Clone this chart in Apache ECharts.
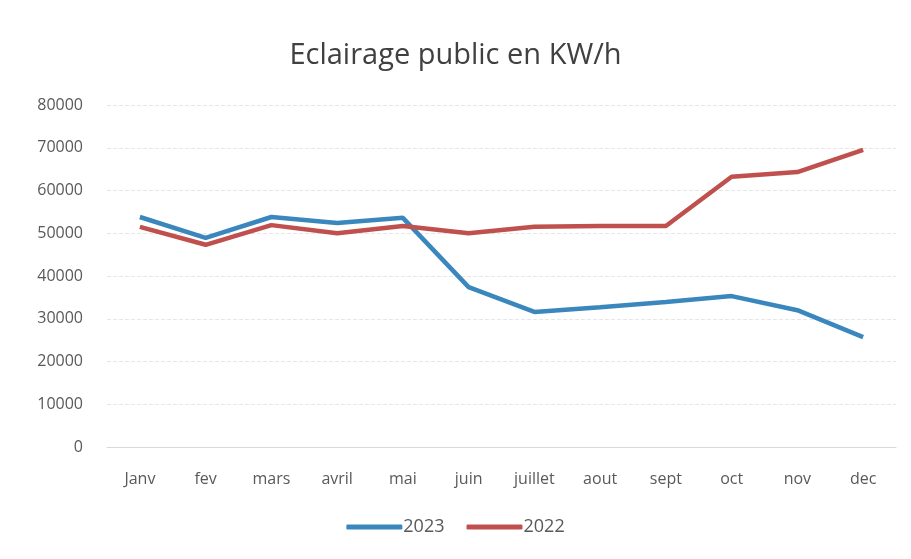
<!DOCTYPE html>
<html>
<head>
<meta charset="utf-8">
<script src="https://cdn.jsdelivr.net/npm/echarts@6/dist/echarts.min.js"></script>
<style>
  html, body { margin: 0; padding: 0; background: #fff; }
  #chart { width: 911px; height: 559px; }
</style>
</head>
<body>
<div id="chart"></div>
<script>
// months on the x axis
const months = ['Janv', 'fev', 'mars', 'avril', 'mai', 'juin', 'juillet', 'aout', 'sept', 'oct', 'nov', 'dec'];
// consumption values (KW/h)
const values2023 = [53800, 48900, 53800, 52400, 53600, 37400, 31600, 32700, 33900, 35300, 32000, 25700];
const values2022 = [51500, 47300, 51900, 50000, 51700, 50000, 51500, 51700, 51700, 63200, 64300, 69500];

const textColor = '#595959';
const fontName = '"Open Sans", "Liberation Sans", sans-serif';

const chart = echarts.init(document.getElementById('chart'));

chart.setOption({
  backgroundColor: '#fff',
  animation: false,
  title: {
    text: 'Eclairage public en KW/h',
    left: 'center',
    top: 36,
    padding: [5, 5, 5, 28],
    textStyle: { color: '#404040', fontSize: 29, fontWeight: 'normal', fontFamily: fontName }
  },
  legend: {
    data: ['2023', '2022'],
    bottom: 18,
    left: 'center',
    padding: [5, 5, 5, 32],
    icon: 'roundRect',
    itemWidth: 56,
    itemHeight: 5,
    itemGap: 22,
    textStyle: { color: textColor, fontSize: 18, fontFamily: fontName, padding: [0, 0, 0, -4] }
  },
  grid: { left: 107, right: 15, top: 105, bottom: 112 },
  xAxis: {
    type: 'category',
    data: months,
    boundaryGap: true,
    axisLine: { lineStyle: { color: '#d9d9d9' } },
    axisTick: { show: false },
    axisLabel: { color: textColor, fontSize: 16, fontFamily: fontName, margin: 24 }
  },
  yAxis: {
    type: 'value',
    min: 0,
    max: 80000,
    interval: 10000,
    axisLine: { show: false },
    axisTick: { show: false },
    axisLabel: { color: textColor, fontSize: 16, fontFamily: fontName, margin: 24, formatter: v => String(v) },
    splitLine: { lineStyle: { color: '#e6e6e6', type: 'dashed', width: 1 } }
  },
  series: [{
    name: '2023',
    type: 'line',
    data: values2023,
    showSymbol: false,
    symbol: 'none',
    lineStyle: { color: '#3a87be', width: 4.5 },
    itemStyle: { color: '#3a87be' }
  }, {
    name: '2022',
    type: 'line',
    data: values2022,
    showSymbol: false,
    symbol: 'none',
    lineStyle: { color: '#c0504d', width: 4.5 },
    itemStyle: { color: '#c0504d' }
  }]
});
</script>
</body>
</html>
